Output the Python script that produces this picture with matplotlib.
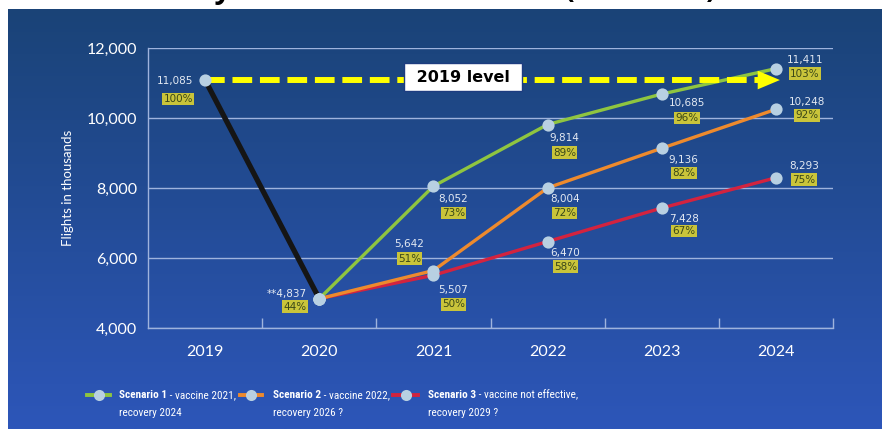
import numpy as np
import matplotlib
matplotlib.use("Agg")
import matplotlib.pyplot as plt
from matplotlib.lines import Line2D
import matplotlib.colors as mcolors
from matplotlib import font_manager as fm

# ---------------- data ----------------
years = ["2019", "2020", "2021", "2022", "2023", "2024"]
base_vals = [11085, 4837]
base_pct = ["100%", "44%"]
s1_vals = [4837, 8052, 9814, 10685, 11411]
s1_pct = ["73%", "89%", "96%", "103%"]
s2_vals = [4837, 5642, 8004, 9136, 10248]
s2_pct = ["51%", "72%", "82%", "92%"]
s3_vals = [4837, 5507, 6470, 7428, 8293]
s3_pct = ["50%", "58%", "67%", "75%"]
yticks = [4000, 6000, 8000, 10000, 12000]
ytick_labels = ["4,000", "6,000", "8,000", "10,000", "12,000"]
legend_bold = ["Scenario 1", "Scenario 2", "Scenario 3"]
legend_rest = [" - vaccine 2021,", " - vaccine 2022,", " - vaccine not effective,"]
legend_line2 = ["recovery 2024", "recovery 2026 ?", "recovery 2029 ?"]

# ---------------- style ----------------
W, H = 882, 429
GREEN, ORANGE, RED, BLACK = "#8fc540", "#ee8a2d", "#d3233f", "#151515"
MARKER = "#b8d0e2"
GRID = "#9fb3dd"
VAL_C = "#e3e9f2"
PCT_BG, PCT_FG = "#c9c43a", "#3a4718"
SANS = ["Lato", "DejaVu Sans"]


def pick_narrow(weight_bold):
    prefs = ["Roboto Condensed", "Liberation Sans Narrow", "Open Sans Condensed",
             "Noto Sans Condensed", "Noto Sans", "DejaVu Sans Condensed", "DejaVu Sans", "Open Sans"]
    best = None
    for f in fm.fontManager.ttflist:
        narrow = ("Narrow" in f.name or "Condensed" in f.name or
                  str(f.stretch) in ("condensed", "semi-condensed", "extra-condensed")
                  or (isinstance(f.stretch, int) and f.stretch < 500)
                  or "Condensed" in f.fname or "Narrow" in f.fname)
        if not narrow or f.style != "normal" or "Mono" in f.name or "Serif" in f.name:
            continue
        if "Extra" in f.fname or "Ultra" in f.fname or "Semi" in f.fname:
            continue
        w = f.weight if isinstance(f.weight, int) else (700 if f.weight == "bold" else 400)
        if weight_bold and w != 700:
            continue
        if not weight_bold and w != 400:
            continue
        rank = next((i for i, p in enumerate(prefs) if f.name == p), len(prefs))
        if best is None or rank < best[0]:
            best = (rank, f.fname)
    if best is None:
        return fm.FontProperties(family=SANS, weight="bold" if weight_bold else "normal")
    return fm.FontProperties(fname=best[1])


fp_leg_reg = pick_narrow(False)
fp_leg_bold = pick_narrow(True)

fig = plt.figure(figsize=(W / 100, H / 100), dpi=100, facecolor="white")

# background gradient panel
bg = fig.add_axes([0, 0, 1, 1], zorder=-10)
c_top = np.array(mcolors.to_rgb("#1a4377"))
c_bot = np.array(mcolors.to_rgb("#2d56b9"))
t = np.linspace(0, 1, 256)[:, None]
grad = (c_top[None, :] * (1 - t) + c_bot[None, :] * t)[:, None, :]
bg.imshow(grad, extent=(8, W, H, 9), aspect="auto", interpolation="bilinear")
bg.set_xlim(0, W)
bg.set_ylim(H, 0)
bg.axis("off")
bg.text(716, -2, "EUROCONTROL Five-year Forecast Scenarios (Nov 2020)",
        ha="right", va="baseline", fontsize=21, fontweight="bold",
        color="black", family=["Open Sans", "DejaVu Sans"])

# main axes
ax = fig.add_axes([148 / W, 1 - 328 / H, (833 - 148) / W, (328 - 48) / H])
ax.patch.set_visible(False)
ax.set_xlim(-0.5, 5.5)
ax.set_ylim(4000, 12000)
ax.set_yticks(yticks)
ax.set_yticklabels(ytick_labels, color="white", fontsize=11.5, family=SANS)
ax.set_xticks(range(len(years)))
ax.set_xticklabels(years, color="white", fontsize=11.5, family=SANS)
ax.set_xticks(np.arange(0.5, 5.6, 1), minor=True)
ax.tick_params(axis="both", which="major", length=0)
ax.tick_params(axis="y", pad=8)
ax.tick_params(axis="x", pad=12)
ax.tick_params(axis="x", which="minor", direction="in", length=7, color=GRID, width=1)
ax.grid(axis="y", color=GRID, lw=1)
ax.set_axisbelow(True)
for s in ["top", "right"]:
    ax.spines[s].set_visible(False)
for s in ["left", "bottom"]:
    ax.spines[s].set_color(GRID)
    ax.spines[s].set_linewidth(1)
ax.set_ylabel("Flights in thousands", color="white", fontsize=9.5, family=SANS)
ax.yaxis.set_label_coords((74 - 148) / (833 - 148), 0.5)

xb = [0, 1]
xs = [1, 2, 3, 4, 5]
ax.plot(xb, base_vals, color=BLACK, lw=3.8, zorder=3, solid_capstyle="round")
ax.plot(xs, s3_vals, color=RED, lw=2.4, zorder=3)
ax.plot(xs, s2_vals, color=ORANGE, lw=2.4, zorder=3)
ax.plot(xs, s1_vals, color=GREEN, lw=2.4, zorder=3)

# 2019 level arrow
level = base_vals[0]
tip = len(years) - 1 + 0.035
head_base = len(years) - 1 - 0.16
ax.plot([0, head_base], [level, level], color="#ffff00", lw=4.3,
        dashes=(3.3, 1.3), zorder=3.5)
ax.annotate("", xy=(tip, level), xytext=(head_base, level),
            arrowprops=dict(arrowstyle="-|>,head_length=1.0,head_width=0.42",
                            mutation_scale=16, color="#ffff00", lw=0,
                            shrinkA=0, shrinkB=0), zorder=3.5)
ax.text(2.26, level + 80, " 2019 level ", ha="center", va="center", fontsize=11.5,
        fontweight="bold", color="black", family="DejaVu Sans", zorder=6,
        bbox=dict(boxstyle="square,pad=0.42", fc="white", ec="#1d3c80", lw=1))

# markers
for xv, yv in [(xb, base_vals), (xs, s3_vals), (xs, s2_vals), (xs, s1_vals)]:
    ax.plot(xv, yv, "o", ms=8.8, mfc=MARKER, mec="none", zorder=5)


def label(x, y, val, pct, voff, poff):
    ax.annotate(val, xy=(x, y), xytext=voff[:2], textcoords="offset pixels",
                ha=voff[2], va="center", fontsize=7.5, color=VAL_C,
                family="DejaVu Sans", zorder=6)
    ax.annotate(pct, xy=(x, y), xytext=poff[:2], textcoords="offset pixels",
                ha=poff[2], va="center", fontsize=7.5, color=PCT_FG,
                family="DejaVu Sans", zorder=6,
                bbox=dict(boxstyle="square,pad=0.12", fc=PCT_BG, ec="none"))


label(0, base_vals[0], f"{base_vals[0]:,}", base_pct[0], (-12, -1, "right"), (-12, -19, "right"))
label(1, base_vals[1], f"**{base_vals[1]:,}", base_pct[1], (-12, 5, "right"), (-13, -8, "right"))

s1_off = [((20, -13, "center"), (20, -27, "center")), ((17, -13, "center"), (17, -28, "center")),
          ((25, -9, "center"), (25, -24, "center")), ((29, 9, "center"), (29, -5, "center"))]
s2_off = [((-24, 27, "center"), (-24, 12, "center")), ((17, -11, "center"), (17, -25, "center")),
          ((22, -12, "center"), (22, -25, "center")), ((31, 7, "center"), (31, -6, "center"))]
s3_off = [((20, -15, "center"), (20, -29, "center")), ((18, -11, "center"), (18, -25, "center")),
          ((22, -11, "center"), (22, -23, "center")), ((28, 12, "center"), (28, -2, "center"))]
for vals, pcts, offs in [(s1_vals, s1_pct, s1_off), (s2_vals, s2_pct, s2_off), (s3_vals, s3_pct, s3_off)]:
    for i in range(4):
        label(xs[i + 1], vals[i + 1], f"{vals[i + 1]:,}", pcts[i], offs[i][0], offs[i][1])

# legend (manual)
leg_colors = [GREEN, ORANGE, RED]
leg_handle_x = [(87, 110), (240, 262), (393, 418)]
leg_text_x = [119, 273, 428]
leg_limit = [236, 389, 870]
row1_y, row2_y = 395, 413
leg_texts = []
for i in range(3):
    x0, x1 = leg_handle_x[i]
    fig.add_artist(Line2D([x0 / W, x1 / W], [1 - row1_y / H] * 2, color=leg_colors[i],
                          lw=2.8, transform=fig.transFigure))
    fig.add_artist(Line2D([(x0 + x1) / 2 / W], [1 - row1_y / H], marker="o", ms=8,
                          mfc=MARKER, mec="none", transform=fig.transFigure))
    tb = fig.text(leg_text_x[i] / W, 1 - row1_y / H, legend_bold[i], ha="left",
                  va="center", fontproperties=fp_leg_bold.copy(), color="white")
    tb.set_fontsize(10)
    tr = ax.annotate(legend_rest[i], xy=(1, 0.5), xycoords=tb, ha="left", va="center",
                     fontproperties=fp_leg_reg.copy(), color="white", annotation_clip=False)
    tr.set_fontsize(10)
    t2 = fig.text(leg_text_x[i] / W, 1 - row2_y / H, legend_line2[i], ha="left",
                  va="center", fontproperties=fp_leg_reg.copy(), color="white")
    t2.set_fontsize(10)
    leg_texts.append((tb, tr, t2))

# one common legend font size that keeps every entry clear of the next
fig.canvas.draw()
r = fig.canvas.get_renderer()
factor = 1.0
for i, (tb, tr, t2) in enumerate(leg_texts):
    width = tr.get_window_extent(r).x1 - leg_text_x[i]
    avail = leg_limit[i] - leg_text_x[i]
    factor = min(factor, avail / width)
for trio in leg_texts:
    for tt in trio:
        tt.set_fontsize(10 * factor)

fig.savefig("out.png", dpi=100, facecolor="white")
